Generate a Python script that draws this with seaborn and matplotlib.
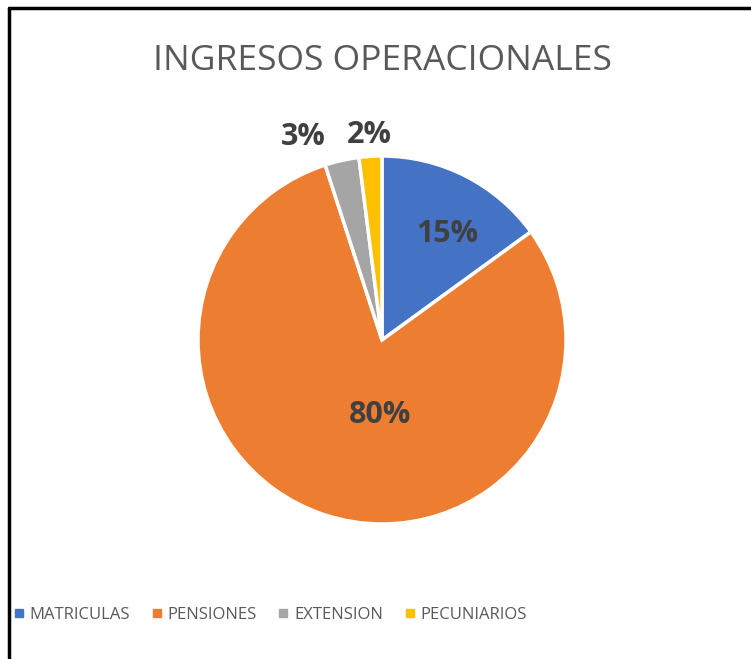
import matplotlib
matplotlib.use('Agg')
import matplotlib.pyplot as plt
from matplotlib.lines import Line2D
import seaborn as sns

# data
categories = ["MATRICULAS", "PENSIONES", "EXTENSION", "PECUNIARIOS"]
shares = [15, 80, 3, 2]
colors = ["#4472C4", "#ED7D31", "#A5A5A5", "#FFC000"]
title = "INGRESOS OPERACIONALES"

# layout (pixels, y measured from top)
W, H = 751, 659
center = (382, 340)
radius = 184
label_pos = [(447, 234), (380, 415), (303, 137), (369, 135)]

sns.set_theme(style="white")
plt.rcParams['font.family'] = ['Open Sans', 'DejaVu Sans']

fig = plt.figure(figsize=(W / 100, H / 100), dpi=100)
ax = fig.add_axes([0, 0, 1, 1])

wedges, _ = ax.pie(shares, colors=colors, startangle=90, counterclock=False,
                   center=(center[0], H - center[1]), radius=radius,
                   wedgeprops=dict(edgecolor="white", linewidth=2.5))
ax.set_xlim(0, W)
ax.set_ylim(0, H)
ax.set_aspect("auto")
ax.axis("off")

for v, (px, py) in zip(shares, label_pos):
    ax.text(px, H - py, f"{v}%", ha="center", va="center",
            fontsize=22, fontweight="bold", color="#404040")

ax.text(382, H - 61, title, ha="center", va="center",
        fontsize=25.5, color="#595959")

handles = [Line2D([], [], marker="s", linestyle="", markersize=6,
                  markerfacecolor=c, markeredgecolor=c) for c in colors]
fig.legend(handles, categories, ncol=4, loc="center left",
           bbox_to_anchor=(7 / W, (H - 615) / H), frameon=False,
           fontsize=12, labelcolor="#595959", handlelength=0.6,
           handletextpad=0.35, columnspacing=1.3, borderaxespad=0)

# chart frame (top and left edges visible in the crop)
fig.add_artist(Line2D([9 / W, 9 / W], [0, (H - 8) / H], color="black",
                      linewidth=2.5, transform=fig.transFigure))
fig.add_artist(Line2D([9 / W, 1], [(H - 8) / H, (H - 8) / H], color="black",
                      linewidth=2.5, transform=fig.transFigure))

fig.savefig("out.png", dpi=100)
